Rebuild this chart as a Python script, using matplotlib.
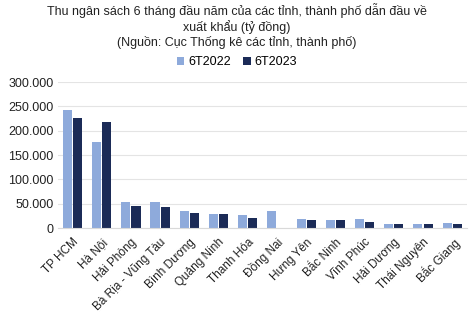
import numpy as np
import matplotlib.pyplot as plt
from matplotlib.ticker import FuncFormatter

plt.rcParams['font.family'] = ['Liberation Sans', 'DejaVu Sans']

provinces = ['TP HCM', 'Hà Nội', 'Hải Phòng', 'Bà Rịa - Vũng Tàu', 'Bình Dương',
             'Quảng Ninh', 'Thanh Hóa', 'Đồng Nai', 'Hưng Yên', 'Bắc Ninh',
             'Vĩnh Phúc', 'Hải Dương', 'Thái Nguyên', 'Bắc Giang']
thu_2022 = [242000, 176000, 53000, 53000, 34000, 28000, 26000, 35000, 18000, 16000,
            19000, 9000, 9000, 10500]
thu_2023 = [226000, 218000, 46000, 43000, 31000, 28000, 20000, 0, 16000, 15500,
            13000, 9000, 8000, 8000]
yticks = [0, 50000, 100000, 150000, 200000, 250000, 300000]

color_22 = '#8eaadb'
color_23 = '#1b2b57'

fig = plt.figure(figsize=(4.74, 3.18), dpi=100)
ax = fig.add_axes([0.122, 0.283, 0.863, 0.459])

x = np.arange(len(provinces))
w = 0.31
ax.bar(x - w / 2 - 0.02, thu_2022, w, color=color_22, label='6T2022')
ax.bar(x + w / 2 + 0.02, thu_2023, w, color=color_23, label='6T2023')

ax.set_ylim(0, 300000)
ax.set_xlim(-0.5, len(provinces) - 0.5)
ax.set_yticks(yticks)
ax.yaxis.set_major_formatter(FuncFormatter(lambda v, p: f'{int(v):,}'.replace(',', '.')))
ax.grid(axis='y', color='#e4e4e4', lw=0.8)
ax.set_axisbelow(True)
for s in ['top', 'right', 'left']:
    ax.spines[s].set_visible(False)
ax.spines['bottom'].set_color('#d9d9d9')
ax.tick_params(axis='y', length=0, labelsize=9, colors='#222222', pad=3)
ax.tick_params(axis='x', length=0, labelsize=8.5, colors='#222222', pad=6)
ax.set_xticks(x)
ax.set_xticklabels(provinces, rotation=45, ha='right', rotation_mode='anchor')

fig.text(0.5, 0.99, 'Thu ngân sách 6 tháng đầu năm của các tỉnh, thành phố dẫn đầu về\n'
         'xuất khẩu (tỷ đồng)\n(Nguồn: Cục Thống kê các tỉnh, thành phố)',
         ha='center', va='top', fontsize=9, color='#222222', linespacing=1.2)
fig.legend(loc='center', bbox_to_anchor=(0.5, 0.805), ncol=2, frameon=False,
           fontsize=9, handlelength=0.6, handleheight=0.6, handletextpad=0.3,
           columnspacing=1.0)

fig.savefig('out.png', dpi=100)
